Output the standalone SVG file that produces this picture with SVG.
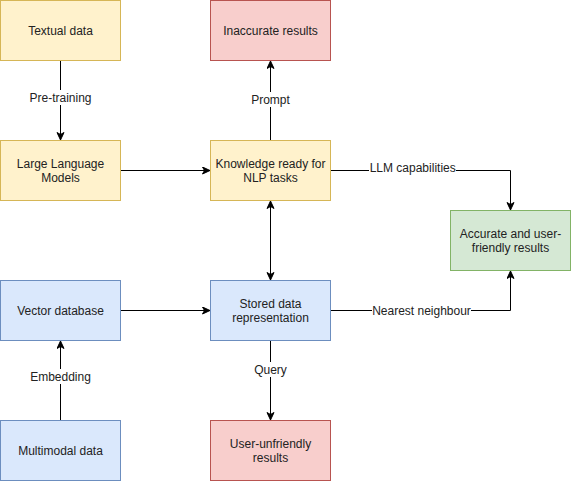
<svg xmlns="http://www.w3.org/2000/svg" width="571" height="481" viewBox="0 0 571 481">
<style>
.n{stroke-width:1}
.y{fill:#fff2cc;stroke:#d6b656}
.r{fill:#f8cecc;stroke:#b85450}
.b{fill:#dae8fc;stroke:#6c8ebf}
.g{fill:#d5e8d4;stroke:#82b366}
text{font-family:"Liberation Sans",Arial,Helvetica,sans-serif;font-size:12px;fill:#222;text-anchor:middle}
.e{fill:none;stroke:#000;stroke-width:1}
.lb{fill:#fff}
</style>
<defs>
<marker id="a" markerUnits="userSpaceOnUse" markerWidth="10" markerHeight="10" refX="8" refY="4" orient="auto">
<path d="M0.5,0.5 L8,4 L0.5,7.5 L2.5,4 Z" fill="#000" stroke="#000" stroke-width="1"/>
</marker>
<marker id="s" markerUnits="userSpaceOnUse" markerWidth="10" markerHeight="10" refX="0" refY="4" orient="auto">
<path d="M7.5,0.5 L0,4 L7.5,7.5 L5.5,4 Z" fill="#000" stroke="#000" stroke-width="1"/>
</marker>
</defs>
<rect width="571" height="481" fill="#fff"/>
<g id="connectors">
<path class="e" d="M60.5,60.5 V140" marker-end="url(#a)"/>
<path class="e" d="M120.5,170.5 H210" marker-end="url(#a)"/>
<path class="e" d="M270.5,140.5 V61" marker-end="url(#a)"/>
<path class="e" d="M330.5,170.5 H510.5 V210" marker-end="url(#a)"/>
<path class="e" d="M270.5,201 V280" marker-start="url(#s)" marker-end="url(#a)"/>
<path class="e" d="M120.5,310.5 H210" marker-end="url(#a)"/>
<path class="e" d="M330.5,310.5 H510.5 V271" marker-end="url(#a)"/>
<path class="e" d="M270.5,340.5 V420" marker-end="url(#a)"/>
<path class="e" d="M60.5,420.5 V341" marker-end="url(#a)"/>
<rect class="lb" x="25" y="90" width="71" height="15"/>
<text x="60.5" y="102">Pre-training</text>
<rect class="lb" x="250" y="92" width="41" height="15"/>
<text x="270.5" y="104">Prompt</text>
<rect class="lb" x="369" y="161" width="87" height="15"/>
<text x="412.7" y="172">LLM capabilities</text>
<rect class="lb" x="372" y="303" width="99" height="15"/>
<text x="421.5" y="315">Nearest neighbour</text>
<rect class="lb" x="253" y="362" width="35" height="15"/>
<text x="270.5" y="374">Query</text>
<rect class="lb" x="30" y="369" width="62" height="15"/>
<text x="60.5" y="381">Embedding</text>
</g>
<g id="textual-data">
<rect class="n y" x="0.5" y="0.5" width="120" height="60"/>
<text x="60.5" y="34.5">Textual data</text>
</g>
<g id="llm">
<rect class="n y" x="0.5" y="140.5" width="120" height="60"/>
<text x="60.5" y="167.5">Large Language</text>
<text x="60.5" y="182">Models</text>
</g>
<g id="inaccurate">
<rect class="n r" x="210.5" y="0.5" width="120" height="60"/>
<text x="270.5" y="34.5">Inaccurate results</text>
</g>
<g id="knowledge">
<rect class="n y" x="210.5" y="140.5" width="120" height="60"/>
<text x="270.5" y="167.5">Knowledge ready for</text>
<text x="270.5" y="182">NLP tasks</text>
</g>
<g id="accurate">
<rect class="n g" x="450.5" y="210.5" width="120" height="60"/>
<text x="510.5" y="237.5">Accurate and user-</text>
<text x="510.5" y="252">friendly results</text>
</g>
<g id="vector-db">
<rect class="n b" x="0.5" y="280.5" width="120" height="60"/>
<text x="60.5" y="314.5">Vector database</text>
</g>
<g id="stored">
<rect class="n b" x="210.5" y="280.5" width="120" height="60"/>
<text x="270.5" y="307.5">Stored data</text>
<text x="270.5" y="322">representation</text>
</g>
<g id="multimodal">
<rect class="n b" x="0.5" y="420.5" width="120" height="60"/>
<text x="60.5" y="454.5">Multimodal data</text>
</g>
<g id="user-unfriendly">
<rect class="n r" x="210.5" y="420.5" width="120" height="60"/>
<text x="270.5" y="447.5">User-unfriendly</text>
<text x="270.5" y="462">results</text>
</g>
</svg>
